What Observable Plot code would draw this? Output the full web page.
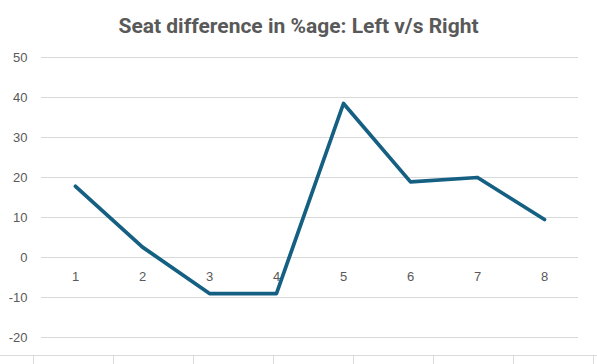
<!DOCTYPE html>
<html>
<head>
<meta charset="utf-8">
<script src="https://cdn.jsdelivr.net/npm/d3@7"></script>
<script src="https://cdn.jsdelivr.net/npm/@observablehq/plot@0.6"></script>
<style>
  html, body { margin: 0; padding: 0; background: #fff; }
  #wrap { width: 597px; height: 364px; overflow: hidden; position: relative; }
  #title { height: 40px; width: 597px; text-align: center; font-family: Roboto, sans-serif; font-weight: 700;
           font-size: 21px; color: #595959; line-height: 40px; box-sizing: border-box; padding-top: 6px; }
  #cells { height: 9px; width: 597px; box-sizing: border-box; border-top: 1px solid #d9d9d9;
           background: repeating-linear-gradient(to right, transparent 0 33px, #d9d9d9 33px 34px, transparent 34px 80px); }
  svg { display: block; }
</style>
</head>
<body>
<div id="wrap">
  <div id="title">Seat difference in %age: Left v/s Right</div>
  <div id="chart"></div>
  <div id="cells"></div>
</div>
<script>
const categories = [1, 2, 3, 4, 5, 6, 7, 8];
const values = [17.8, 2.6, -9, -9, 38.5, 18.9, 20.0, 9.5];
const yTicks = [-20, -10, 0, 10, 20, 30, 40, 50];

const data = categories.map((c, i) => ({ cat: c, value: values[i] }));

const chart = Plot.plot({
  width: 597,
  height: 315,
  marginTop: 17,
  marginBottom: 18,
  marginLeft: 41,
  marginRight: 19,
  style: { fontFamily: "'Liberation Sans', Arial, sans-serif", fontSize: "13px", color: "#595959", background: "#fff" },
  x: { type: "point", domain: categories, padding: 0.5, axis: null },
  y: { domain: [-20, 50], ticks: yTicks, label: null },
  marks: [
    Plot.ruleY(yTicks, { stroke: "#d9d9d9", strokeWidth: 1, strokeOpacity: 1 }),
    Plot.axisY({ ticks: yTicks, tickSize: 0, tickPadding: 14, label: null, fill: "#595959", fontSize: 13, tickFormat: d => String(d) }),
    Plot.text(categories, { x: d => d, y: () => 0, dy: 19, text: d => String(d), fill: "#595959", fontSize: 13 }),
    Plot.line(data, { x: "cat", y: "value", stroke: "#156082", strokeWidth: 3.75, strokeLinejoin: "round", strokeLinecap: "round" })
  ]
});
document.getElementById("chart").appendChild(chart);
</script>
</body>
</html>
